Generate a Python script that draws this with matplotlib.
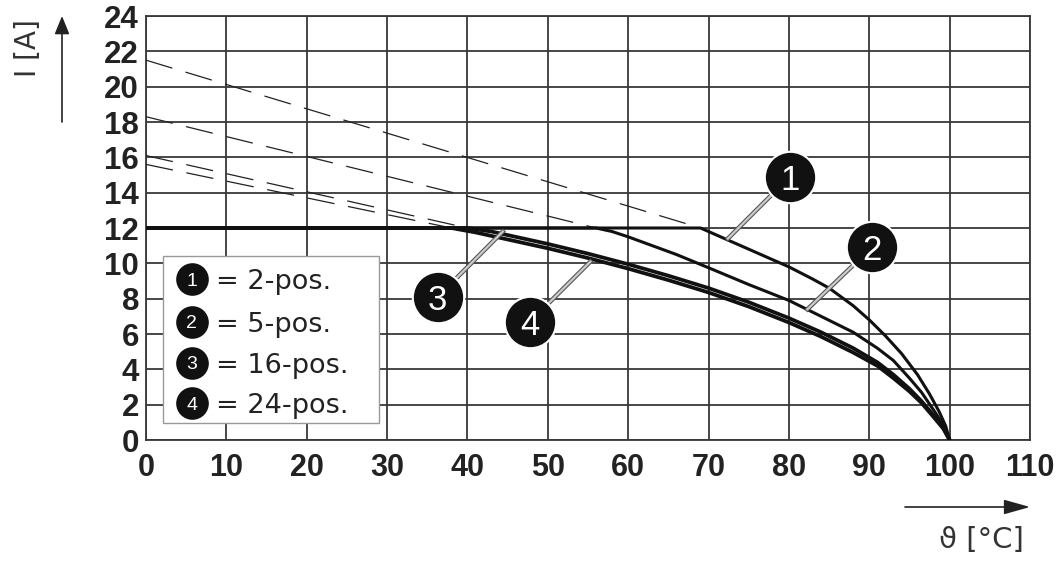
import matplotlib
matplotlib.use("Agg")
import matplotlib.pyplot as plt
import matplotlib.patheffects as pe
from matplotlib.patches import Rectangle

plt.rcParams['font.family'] = ['Liberation Sans', 'DejaVu Sans']

# ---- data ----
x_ticks = [0, 10, 20, 30, 40, 50, 60, 70, 80, 90, 100, 110]
y_ticks = [0, 2, 4, 6, 8, 10, 12, 14, 16, 18, 20, 22, 24]

c1_T = [0, 69, 71, 73, 75, 78, 80, 83, 85, 88, 90, 92, 94, 96, 97.5, 98.7, 99.5, 100]
c1_I = [12, 12, 11.6, 11.2, 10.8, 10.2, 9.8, 9.1, 8.6, 7.6, 6.8, 5.9, 4.9, 3.7, 2.6, 1.6, 0.8, 0]

c2_T = [0, 56, 58, 60, 63, 66, 70, 75, 80, 84, 88, 91, 93, 95, 96.5, 98, 99.3, 100]
c2_I = [12, 12, 11.8, 11.5, 11.0, 10.5, 9.75, 8.8, 7.9, 7.0, 6.1, 5.2, 4.5, 3.5, 2.7, 1.7, 0.8, 0]

c3_T = [0, 40, 43, 46, 50, 55, 60, 65, 70, 75, 80, 84, 88, 91, 93, 95, 96.5, 98, 99.2, 100]
c3_I = [12, 12, 11.8, 11.5, 11.1, 10.55, 9.95, 9.3, 8.6, 7.8, 6.9, 6.1, 5.2, 4.4, 3.7, 2.9, 2.2, 1.4, 0.7, 0]

c4_T = [0, 38, 41, 45, 50, 55, 60, 65, 70, 75, 80, 84, 88, 91, 93, 95, 96.5, 98, 99.2, 100]
c4_I = [12, 12, 11.75, 11.35, 10.85, 10.3, 9.7, 9.05, 8.35, 7.55, 6.65, 5.85, 4.95, 4.2, 3.5, 2.75, 2.1, 1.3, 0.65, 0]

d1_T = [0, 69]; d1_I = [21.5, 12]
d2_T = [0, 56]; d2_I = [18.3, 12]
d3_T = [0, 40]; d3_I = [16.1, 12]
d4_T = [0, 38]; d4_I = [15.6, 12]

labels = ['1', '2', '3', '4']
legend_text = ['= 2-pos.', '= 5-pos.', '= 16-pos.', '= 24-pos.']
# callout circle centre and the curve point it points to
call_xy = [(80.1, 14.9), (90.3, 10.9), (36.3, 8.1), (47.8, 6.7)]
call_end = [(72.4, 11.4), (82.3, 7.4), (44.4, 11.8), (55.3, 10.1)]

# ---- figure ----
fig = plt.figure(figsize=(10.62, 5.64), dpi=100)
ax = fig.add_axes([146 / 1062, 124 / 564, 884 / 1062, 424 / 564])
ax.set_xlim(0, 110)
ax.set_ylim(0, 24)
ax.set_xticks(x_ticks)
ax.set_yticks(y_ticks)
ax.set_xticklabels([str(v) for v in x_ticks], fontsize=22, fontweight='bold', color='#222222')
ax.set_yticklabels([str(v) for v in y_ticks], fontsize=22.5, fontweight='bold', color='#222222')
ax.tick_params(axis='both', length=0)
ax.tick_params(axis='y', pad=5)
ax.tick_params(axis='x', pad=9)
ax.grid(True, color='#383838', linewidth=1.3)
ax.set_axisbelow(True)
for s in ax.spines.values():
    s.set_color('#383838')
    s.set_linewidth(1.3)

# dashed extrapolations
for T, I in [(d1_T, d1_I), (d2_T, d2_I), (d3_T, d3_I), (d4_T, d4_I)]:
    ax.plot(T, I, color='#222222', linewidth=0.9, dashes=(22, 11), zorder=3)

# solid curves
kw = dict(color='#111111', zorder=4, solid_joinstyle='round', solid_capstyle='round')
ax.plot(c1_T, c1_I, linewidth=2.2, **kw)
ax.plot(c2_T, c2_I, linewidth=2.2, **kw)
ax.plot(c3_T, c3_I, linewidth=2.7, **kw)
ax.plot(c4_T, c4_I, linewidth=2.7, **kw)

# callouts
for lab, (cx, cy), (ex, ey) in zip(labels, call_xy, call_end):
    ax.plot([cx, ex], [cy, ey], color='#cccccc', linewidth=1.6, zorder=5,
            path_effects=[pe.Stroke(linewidth=3.2, foreground='#555555'), pe.Normal()])
    ax.plot([cx], [cy], marker='o', markersize=37, markerfacecolor='#111111',
            markeredgecolor='white', markeredgewidth=1.5, zorder=6)
    ax.text(cx, cy, lab, color='white', fontsize=25, ha='center', va='center_baseline', zorder=7)

# legend box
ax.add_patch(Rectangle((2.1, 0.96), 26.9, 9.45, facecolor='white', edgecolor='#999999',
                       linewidth=1.0, zorder=5))
leg_y = [9.11, 6.68, 4.36, 2.09]
for lab, txt, y in zip(labels, legend_text, leg_y):
    ax.plot([5.7], [y], marker='o', markersize=23.5, markerfacecolor='#111111',
            markeredgecolor='none', zorder=6)
    ax.text(5.7, y, lab, color='white', fontsize=14, ha='center', va='center_baseline', zorder=7)
    ax.text(8.7, y, txt, color='#222222', fontsize=19.5, ha='left', va='center_baseline',
            zorder=7, family=['DejaVu Sans'])

# axis arrows and labels (figure pixels, origin bottom-left)
ax.annotate('', xy=(62, 548), xytext=(62, 442), xycoords='figure pixels',
            arrowprops=dict(arrowstyle='-|>,head_length=1.1,head_width=0.45', color='#222222',
                            linewidth=1.2, shrinkA=0, shrinkB=0))
ax.annotate('', xy=(1030, 57), xytext=(905, 57), xycoords='figure pixels',
            arrowprops=dict(arrowstyle='-|>,head_length=1.6,head_width=0.45', color='#222222',
                            linewidth=1.2, shrinkA=0, shrinkB=0))
fig.text(28 / 1062, 516 / 564, 'I [A]', rotation=90, fontsize=20, color='#333333',
         ha='center', va='center', family=['DejaVu Sans'])
fig.text(981 / 1062, 24 / 564, 'ϑ [°C]', fontsize=21, color='#333333',
         ha='center', va='center', family=['DejaVu Sans'])

fig.savefig('out.png', dpi=100, facecolor='white')
